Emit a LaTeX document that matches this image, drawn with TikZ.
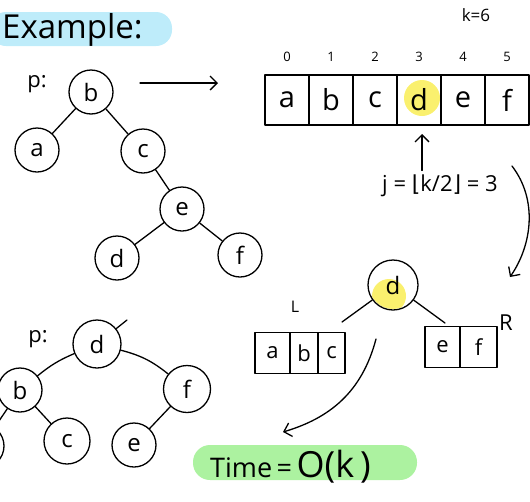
\documentclass[tikz,border=0pt]{standalone}
\usepackage{fontspec}
\setmainfont{Open Sans}
\newfontfamily\djv{DejaVu Sans}
\usetikzlibrary{arrows.meta,calc}
\definecolor{hlblue}{RGB}{190,236,250}
\definecolor{hlgreen}{RGB}{172,242,160}
\definecolor{hlyellow}{RGB}{250,240,110}
\tikzset{
  ink/.style={line width=1.3pt, line cap=round, line join=round},
  tnode/.style={ink, draw, circle, minimum size=44pt, inner sep=0pt, font=\fontsize{24}{24}\selectfont},
  cellbox/.style={ink, draw, rectangle, minimum width=44pt, minimum height=50pt, inner sep=0pt, font=\fontsize{29}{29}\selectfont},
  smallcell/.style={ink, draw, rectangle, minimum height=41pt, inner sep=0pt, font=\fontsize{22}{22}\selectfont},
  idx/.style={font=\fontsize{13}{13}\selectfont},
  lbl/.style={font=\fontsize{22}{22}\selectfont},
  arr/.style={ink, -{Straight Barb[length=7pt,width=14pt,line width=1.3pt]}}
}
\begin{document}
\begin{tikzpicture}[x=1pt,y=-1pt]
\useasboundingbox (0,0) rectangle (530,501);
\clip (0,0) rectangle (530,501);
% Example heading
\fill[hlblue, rounded corners=16pt] (-10,12) rectangle (172,46);
\node[anchor=base west, inner sep=0pt, font=\fontsize{33}{33}\selectfont] (title) at (2,38) {Example:};

% top tree
\node[lbl] (p1) at (37,84) {p:};
\node[tnode] (tb) at (91,92) {b};
\node[tnode] (ta) at (37,150) {a};
\node[tnode] (tc) at (143,151) {c};
\node[tnode] (te) at (182,209) {e};
\node[tnode] (td) at (117,258) {d};
\node[tnode] (tf) at (240,255) {f};
\draw[ink] (tb) -- (ta);
\draw[ink] (tb) -- (tc);
\draw[ink] (tc) -- (te);
\draw[ink] (te) -- (td);
\draw[ink] (te) -- (tf);

% arrow to array
\coordinate (a1s) at (140,83);
\coordinate (a1e) at (218,83);
\draw[arr] (a1s) -- (a1e);

% array
\node[font=\fontsize{17}{17}\selectfont] (kval) at (476,15) {k=6};
\fill[hlyellow] (422,98) circle (18pt);
\foreach \i/\t in {0/a,1/b,2/c,3/d,4/e,5/f}{
  \node[cellbox] (c\i) at ({287+44*\i},100) {\t};
  \node[idx] (i\i) at ({287+44*\i},57) {\i};
}
\node[font=\fontsize{22}{22}\selectfont] (jlab) at (440,186) {j = {\djv ⌊}k/2{\djv ⌋} = 3};
\coordinate (upe) at (422,134);
\draw[arr] (jlab.north -| upe) ++(0,-1) coordinate (ups) -- (upe);

% curved arrow down right
\coordinate (r1) at (512,166);
\coordinate (r2) at (510,277);
\draw[arr] (r1) .. controls (538,200) and (532,245) .. (r2);

% bottom right: d with L and R
\begin{scope}
\clip (393,285) circle (24pt);
\fill[hlyellow] (389,296) circle (17pt);
\end{scope}
\node[tnode, minimum size=50pt] (md) at (393,285) {d};
\node[font=\fontsize{16}{16}\selectfont] (Ll) at (295,307) {L};
\node[lbl] (Rl) at (506,323) {R};
\node[smallcell, minimum width=35pt] (la) at (272.5,353) {a};
\node[smallcell, minimum width=28pt] (lb) at (304,353) {b};
\node[smallcell, minimum width=27pt] (lc) at (331.5,353) {c};
\node[smallcell, minimum width=35pt] (re) at (442.5,347) {e};
\node[smallcell, minimum width=37pt] (rf) at (478.5,347) {f};
\coordinate (le) at (342,322);
\coordinate (ree) at (445,323);
\draw[ink] (md) -- (le);
\draw[ink] (md) -- (ree);

% curved arrow to Time
\coordinate (b1) at (376,339);
\coordinate (b2) at (283,432);
\draw[arr] (b1) .. controls (362,392) and (330,418) .. (b2);

% Time
\fill[hlgreen, rounded corners=17pt] (193,445) rectangle (417,480);
\node[anchor=base west, inner sep=0pt, font=\fontsize{27}{27}\selectfont] (time) at (210,477) {Time\,=\,{\fontsize{36}{36}\selectfont O(k\,)}};

% bottom-left tree
\node[lbl] (p2) at (38,339) {p:};
\node[tnode, minimum size=48pt] (bd) at (97,344) {d};
\node[tnode] (bb) at (20,390) {b};
\node[tnode] (ba) at (-18,446) {};
\node[tnode, minimum size=46pt] (bc) at (67,441) {c};
\node[tnode, minimum size=47pt] (bf) at (187,389) {f};
\node[tnode] (be) at (134,445) {e};
\coordinate (tick) at (127,320);
\draw[ink] (bd) -- (tick);
\draw[ink] (bd) to[bend right=8] (bb);
\draw[ink] (bd) to[bend left=12] (bf);
\draw[ink] (bb) -- (bc);
\draw[ink] (bb) -- (ba);
\draw[ink] (bf) -- (be);
\end{tikzpicture}
\end{document}
